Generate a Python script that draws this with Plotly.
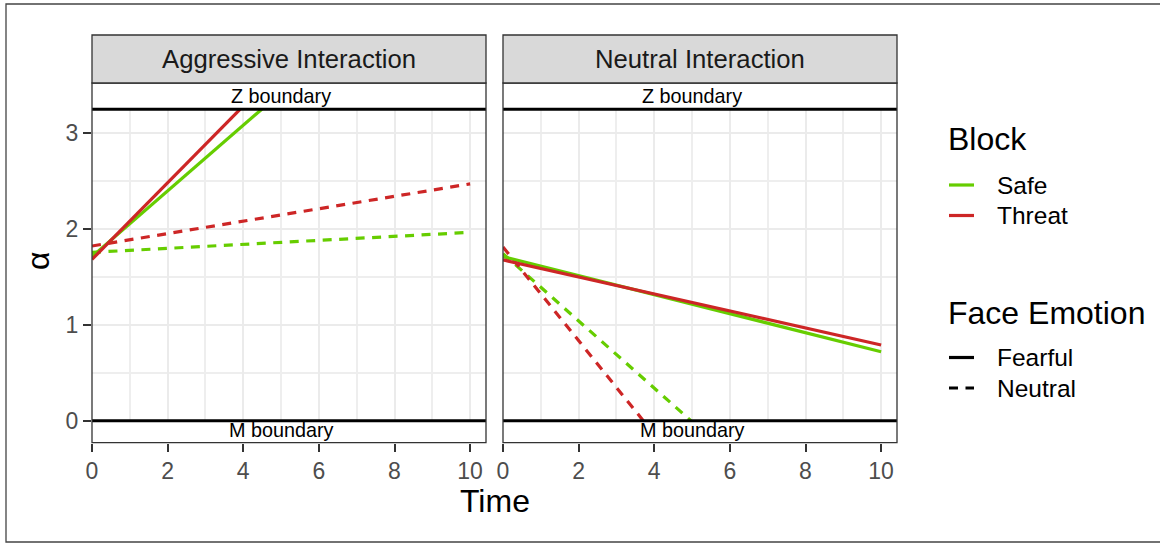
import plotly.graph_objects as go

# ---------------- data ----------------
panels = ["Aggressive Interaction", "Neutral Interaction"]
blocks = ["Safe", "Threat"]
emotions = ["Fearful", "Neutral"]

# endpoints of each fitted line: (time_start, time_end), (alpha_start, alpha_end)
agg_safe_fearful_time = [0, 4.49]
agg_safe_fearful_alpha = [1.71, 3.245]
agg_threat_fearful_time = [0, 3.92]
agg_threat_fearful_alpha = [1.68, 3.245]
agg_safe_neutral_time = [0, 10]
agg_safe_neutral_alpha = [1.754, 1.962]
agg_threat_neutral_time = [0, 10]
agg_threat_neutral_alpha = [1.82, 2.467]

neu_safe_fearful_time = [0, 10]
neu_safe_fearful_alpha = [1.71, 0.719]
neu_threat_fearful_time = [0, 10]
neu_threat_fearful_alpha = [1.675, 0.789]
neu_safe_neutral_time = [0, 4.97]
neu_safe_neutral_alpha = [1.74, 0.0]
neu_threat_neutral_time = [0, 3.71]
neu_threat_neutral_alpha = [1.81, 0.0]

z_boundary = 3.245
m_boundary = 0.0
boundary_labels = ["Z boundary", "M boundary"]

x_ticks = [0, 2, 4, 6, 8, 10]
y_ticks = [0, 1, 2, 3]

# ---------------- style ----------------
W, H = 1160, 543
FONT = "Liberation Sans, Arial, Helvetica, sans-serif"
GREEN = "#66CD00"
RED = "#CD2626"
COLORS = {"Safe": GREEN, "Threat": RED}
DASHES = {"Fearful": "solid", "Neutral": "9px,7.5px"}
LW = 3.2

def px_x(p):
    return p / W

def px_y(p):
    return 1 - p / H

X_RANGE = [0, 10.42]
Y_RANGE = [-0.229, 3.518]
dom_left = [px_x(92), px_x(486)]
dom_right = [px_x(503), px_x(897)]
dom_y = [px_y(442.7), px_y(83)]

fig = go.Figure()

series = {
    ("x", "y"): [
        ("Safe", "Neutral", agg_safe_neutral_time, agg_safe_neutral_alpha),
        ("Threat", "Neutral", agg_threat_neutral_time, agg_threat_neutral_alpha),
        ("Safe", "Fearful", agg_safe_fearful_time, agg_safe_fearful_alpha),
        ("Threat", "Fearful", agg_threat_fearful_time, agg_threat_fearful_alpha),
    ],
    ("x2", "y2"): [
        ("Safe", "Neutral", neu_safe_neutral_time, neu_safe_neutral_alpha),
        ("Threat", "Neutral", neu_threat_neutral_time, neu_threat_neutral_alpha),
        ("Safe", "Fearful", neu_safe_fearful_time, neu_safe_fearful_alpha),
        ("Threat", "Fearful", neu_threat_fearful_time, neu_threat_fearful_alpha),
    ],
}

for (xa, ya), lst in series.items():
    for blk, emo, t, a in lst:
        fig.add_trace(go.Scatter(
            x=t, y=a, xaxis=xa, yaxis=ya, mode="lines",
            name=f"{blk} / {emo}",
            line=dict(color=COLORS[blk], width=LW, dash=DASHES[emo]),
            showlegend=False, hoverinfo="skip"))

TICKFONT = dict(family=FONT, size=23, color="#4D4D4D")
axis_common = dict(
    range=X_RANGE, tickvals=x_ticks, showgrid=True, gridcolor="#EBEBEB",
    gridwidth=2, zeroline=False, showline=False, ticks="outside", ticklen=8,
    tickwidth=2, tickcolor="#333333", tickfont=TICKFONT,
    minor=dict(dtick=1, showgrid=True, gridcolor="#EEEEEE", gridwidth=1.6),
)
yaxis_common = dict(
    range=Y_RANGE, tickvals=y_ticks, showgrid=True, gridcolor="#EBEBEB",
    gridwidth=2, zeroline=False, showline=False,
    minor=dict(dtick=0.5, showgrid=True, gridcolor="#EEEEEE", gridwidth=1.6),
)

fig.update_layout(
    width=W, height=H,
    margin=dict(l=0, r=0, t=0, b=0, autoexpand=False),
    paper_bgcolor="white", plot_bgcolor="white",
    font=dict(family=FONT, color="black"),
    showlegend=False,
    xaxis=dict(domain=dom_left, anchor="y", **axis_common),
    xaxis2=dict(domain=dom_right, anchor="y2", **axis_common),
    yaxis=dict(domain=dom_y, anchor="x", ticks="outside", ticklen=8,
               tickwidth=2, tickcolor="#333333", tickfont=TICKFONT,
               **yaxis_common),
    yaxis2=dict(domain=dom_y, anchor="x2", matches="y", showticklabels=False,
                ticks="", **yaxis_common),
)

shapes = []
annotations = []
for i, (xa, ya, dom, title) in enumerate([
        ("x", "y", dom_left, panels[0]), ("x2", "y2", dom_right, panels[1])]):
    xd = xa + " domain"
    # white label boxes over the lines
    shapes.append(dict(type="rect", xref=xd, yref=ya, x0=0, x1=1,
                       y0=z_boundary, y1=Y_RANGE[1], fillcolor="white",
                       line=dict(width=0), layer="above"))
    shapes.append(dict(type="rect", xref=xd, yref=ya, x0=0, x1=1,
                       y0=Y_RANGE[0], y1=m_boundary, fillcolor="white",
                       line=dict(width=0), layer="above"))
    # boundary lines
    for b in (z_boundary, m_boundary):
        shapes.append(dict(type="line", xref=xd, yref=ya, x0=0, x1=1,
                           y0=b, y1=b, line=dict(color="black", width=3),
                           layer="above"))
    # panel border
    shapes.append(dict(type="rect", xref=xd, yref=ya + " domain", x0=0, x1=1,
                       y0=0, y1=1, line=dict(color="#333333", width=1.3),
                       fillcolor="rgba(0,0,0,0)", layer="above"))
    # strip
    shapes.append(dict(type="rect", xref="paper", yref="paper",
                       x0=dom[0], x1=dom[1], y0=px_y(83), y1=px_y(35),
                       fillcolor="#D9D9D9", line=dict(color="#333333", width=1.3),
                       layer="above"))
    annotations.append(dict(text=title, xref="paper", yref="paper",
                            x=(dom[0] + dom[1]) / 2, y=px_y(59),
                            showarrow=False, xanchor="center", yanchor="middle",
                            font=dict(family=FONT, size=25.7, color="#1A1A1A")))
    annotations.append(dict(text=boundary_labels[0], xref=xa, yref=ya, x=5,
                            y=3.38, showarrow=False, yanchor="middle",
                            font=dict(family=FONT, size=19.8, color="black")))
    annotations.append(dict(text=boundary_labels[1], xref=xa, yref=ya, x=5,
                            y=-0.097, showarrow=False, yanchor="middle",
                            font=dict(family=FONT, size=19.8, color="black")))

# outer frame
shapes.append(dict(type="rect", xref="paper", yref="paper", x0=px_x(6),
                   x1=1.02, y0=px_y(542), y1=px_y(4),
                   line=dict(color="#444444", width=1.3),
                   fillcolor="rgba(0,0,0,0)", layer="above"))

# axis titles
annotations.append(dict(text="Time", xref="paper", yref="paper",
                        x=px_x(494.5), y=px_y(501), showarrow=False,
                        xanchor="center", yanchor="middle",
                        font=dict(family=FONT, size=32, color="black")))
annotations.append(dict(text="α", xref="paper", yref="paper",
                        x=px_x(38), y=px_y(261), showarrow=False,
                        xanchor="center", yanchor="middle", textangle=-90,
                        font=dict(family=FONT, size=32, color="black")))

# legends (drawn as keys + labels)
LEG_X0, LEG_X1, LEG_TX, LEG_TITLE_X = 949, 974, 995, 946
legend_groups = [
    ("Block", 138.5, [(b, COLORS[b], "solid", y) for b, y in zip(blocks, [185, 215.5])]),
    ("Face Emotion", 313, [(e, "black", DASHES[e], y) for e, y in zip(emotions, [357.5, 388])]),
]
for gtitle, gy, items in legend_groups:
    annotations.append(dict(text=gtitle, xref="paper", yref="paper",
                            x=px_x(LEG_TITLE_X), y=px_y(gy), showarrow=False,
                            xanchor="left", yanchor="middle",
                            font=dict(family=FONT, size=32, color="black")))
    for label, col, dash, iy in items:
        shapes.append(dict(type="line", xref="paper", yref="paper",
                           x0=px_x(LEG_X0), x1=px_x(LEG_X1),
                           y0=px_y(iy), y1=px_y(iy),
                           line=dict(color=col, width=LW, dash=dash)))
        annotations.append(dict(text=label, xref="paper", yref="paper",
                                x=px_x(LEG_TX), y=px_y(iy), showarrow=False,
                                xanchor="left", yanchor="middle",
                                font=dict(family=FONT, size=24.5, color="black")))

fig.update_layout(shapes=shapes, annotations=annotations)

fig.write_html("out.html")
